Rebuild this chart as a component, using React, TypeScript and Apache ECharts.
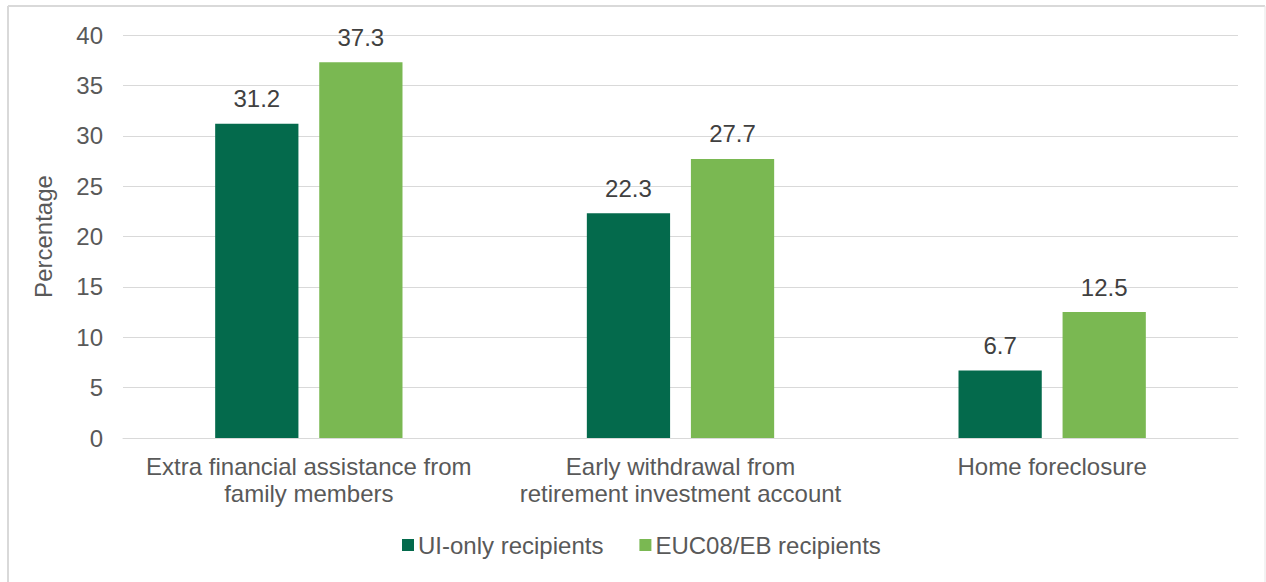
import React, { useEffect, useRef } from "react";
import * as echarts from "echarts";

const categories = [
  "Extra financial assistance from\nfamily members",
  "Early withdrawal from\nretirement investment account",
  "Home foreclosure",
];
const uiOnly = [31.2, 22.3, 6.7];
const eucEb = [37.3, 27.7, 12.5];
const seriesNames = ["UI-only recipients", "EUC08/EB recipients"];

const FONT = "'Liberation Sans', Arial, sans-serif";
const TEXT = "#595959";

export default function App() {
  const ref = useRef<HTMLDivElement>(null);
  useEffect(() => {
    if (!ref.current) return;
    const chart = echarts.init(ref.current, undefined, { renderer: "svg" });
    const label = {
      show: true,
      position: "top",
      distance: 13,
      color: "#404040",
      fontSize: 24,
      fontFamily: FONT,
    };
    chart.setOption({
      animation: false,
      backgroundColor: "#ffffff",
      textStyle: { fontFamily: FONT },
      graphic: [
        { type: "line", shape: { x1: 8, y1: 6, x2: 1265, y2: 6 }, style: { stroke: "#D9D9D9", lineWidth: 2 } },
        { type: "line", shape: { x1: 8, y1: 6, x2: 8, y2: 582 }, style: { stroke: "#D9D9D9", lineWidth: 2 } },
        { type: "line", shape: { x1: 1265, y1: 6, x2: 1265, y2: 582 }, style: { stroke: "#E6E6E6", lineWidth: 1 } },
      ],
      grid: { left: 123, right: 28, top: 35, bottom: 144 },
      legend: {
        top: 528,
        left: 397,
        itemWidth: 12,
        itemHeight: 12,
        itemGap: 36,
        icon: "rect",
        textStyle: { color: TEXT, fontSize: 24, fontFamily: FONT, padding: [0, 0, 0, -1] },
        data: seriesNames,
      },
      xAxis: {
        type: "category",
        data: categories,
        axisTick: { show: false },
        axisLine: { lineStyle: { color: "#D9D9D9", width: 1 } },
        axisLabel: {
          color: TEXT,
          fontSize: 24,
          fontFamily: FONT,
          lineHeight: 27,
          margin: 15,
          interval: 0,
        },
      },
      yAxis: {
        type: "value",
        min: 0,
        max: 40,
        interval: 5,
        name: "Percentage",
        nameLocation: "middle",
        nameGap: 68,
        nameTextStyle: { color: TEXT, fontSize: 24, fontFamily: FONT },
        axisLine: { show: false },
        axisTick: { show: false },
        splitLine: { lineStyle: { color: "#D9D9D9", width: 1 } },
        axisLabel: { color: TEXT, fontSize: 24, fontFamily: FONT, margin: 20 },
      },
      series: [
        {
          name: seriesNames[0],
          type: "bar",
          data: uiOnly,
          barWidth: "22.4%",
          barGap: "25%",
          itemStyle: { color: "#046A4C" },
          label,
        },
        {
          name: seriesNames[1],
          type: "bar",
          data: eucEb,
          barWidth: "22.4%",
          itemStyle: { color: "#7AB852" },
          label,
        },
      ],
    });
    return () => chart.dispose();
  }, []);
  return (
    <div
      ref={ref}
      style={{ position: "absolute", left: 0, top: 0, width: 1266, height: 582 }}
    />
  );
}
